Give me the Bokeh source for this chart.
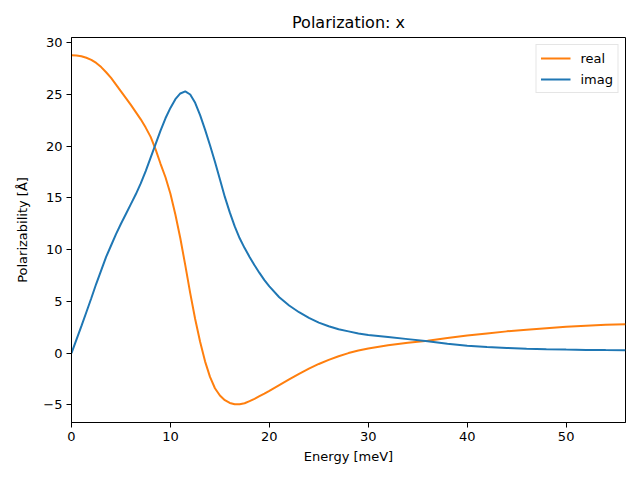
from bokeh.plotting import figure
from bokeh.models import FixedTicker, Range1d, Legend, LegendItem
from bokeh.embed import file_html
from bokeh.resources import INLINE

# Energy grid (meV) and values
energy = [0, 0.5, 1, 1.5, 2, 2.5, 3, 3.5, 4, 4.5, 5, 5.5, 6, 6.5, 7, 7.5, 8,
          8.5, 9, 9.5, 10, 10.5, 11, 11.5, 12, 12.5, 13, 13.5, 14, 14.5, 15,
          15.5, 16, 16.5, 17, 17.5, 18, 18.5, 19, 19.5, 20, 21, 22, 23, 24, 25,
          26, 27, 28, 29, 30, 32, 34, 36, 38, 40, 42, 44, 46, 48, 50, 52, 54, 56]
real = [28.8, 28.78, 28.7, 28.55, 28.35, 28.05, 27.65, 27.15, 26.6, 25.95,
        25.3, 24.65, 24.0, 23.3, 22.6, 21.8, 20.9, 19.7, 18.3, 17.0, 15.4,
        13.4, 11.1, 8.5, 5.8, 3.3, 1.1, -0.8, -2.3, -3.4, -4.1, -4.55, -4.82,
        -4.95, -4.95, -4.85, -4.65, -4.42, -4.17, -3.92, -3.65, -3.1, -2.55,
        -2.0, -1.5, -1.05, -0.65, -0.3, 0.0, 0.25, 0.45, 0.75, 1.0, 1.2, 1.45,
        1.7, 1.9, 2.1, 2.25, 2.4, 2.55, 2.65, 2.73, 2.8]
imag = [0.0, 1.3, 2.6, 3.95, 5.3, 6.7, 8.0, 9.3, 10.4, 11.5, 12.5, 13.45, 14.4,
        15.35, 16.4, 17.6, 18.9, 20.2, 21.5, 22.7, 23.7, 24.55, 25.1, 25.3,
        25.0, 24.2, 23.0, 21.6, 20.1, 18.5, 16.8, 15.1, 13.6, 12.25, 11.1,
        10.15, 9.3, 8.5, 7.75, 7.05, 6.45, 5.4, 4.6, 3.95, 3.4, 2.95, 2.6, 2.3,
        2.1, 1.9, 1.75, 1.55, 1.35, 1.15, 0.9, 0.72, 0.6, 0.5, 0.43, 0.38,
        0.34, 0.31, 0.29, 0.28]
x_ticks = [0, 10, 20, 30, 40, 50]
y_ticks = [-5, 0, 5, 10, 15, 20, 25, 30]

FONT = "DejaVu Sans"

p = figure(width=640, height=480, output_backend="svg", toolbar_location=None,
           x_range=Range1d(0, 56), y_range=Range1d(-6.71, 30.51),
           title="Polarization: x",
           min_border_left=71, min_border_right=15, min_border_top=37,
           min_border_bottom=58)

p.title.align = "center"
p.title.text_font = FONT
p.title.text_font_size = "16px"
p.title.text_font_style = "normal"
p.title.text_color = "black"
p.title.standoff = 11

p.outline_line_color = "black"
p.outline_line_width = 1
p.xgrid.grid_line_color = None
p.ygrid.grid_line_color = None

for ax in (p.xaxis[0], p.yaxis[0]):
    ax.axis_line_color = "black"
    ax.major_tick_line_color = "black"
    ax.major_tick_out = 5
    ax.major_tick_in = 0
    ax.minor_tick_line_color = None
    ax.major_label_text_font = FONT
    ax.major_label_text_font_size = "13px"
    ax.major_label_text_color = "black"
    ax.major_label_standoff = 4
    ax.axis_label_text_font = FONT
    ax.axis_label_text_font_size = "13px"
    ax.axis_label_text_font_style = "normal"
    ax.axis_label_text_color = "black"

p.xaxis.ticker = FixedTicker(ticks=x_ticks)
p.yaxis.ticker = FixedTicker(ticks=y_ticks)
p.yaxis.major_label_overrides = {t: (("\u2212" + str(-t)) if t < 0 else str(t)) for t in y_ticks}
p.xaxis.axis_label = "Energy [meV]"
p.yaxis.axis_label = "Polarizability [\u00c5]"
p.xaxis.axis_label_standoff = 5
p.yaxis.axis_label_standoff = 10

r_real = p.line(energy, real, line_color="#ff7f0e", line_width=2)
r_imag = p.line(energy, imag, line_color="#1f77b4", line_width=2)

legend = Legend(items=[LegendItem(label="real", renderers=[r_real]),
                       LegendItem(label="imag", renderers=[r_imag])],
                location="top_right", margin=7, padding=4, spacing=3,
                glyph_width=30, glyph_height=18, label_height=18,
                label_standoff=10, label_text_font=FONT,
                label_text_font_size="13px", label_text_color="black",
                border_line_color="#cccccc", border_line_width=1,
                background_fill_alpha=0.8)
p.add_layout(legend, "center")

open("out.html", "w").write(file_html(p, INLINE))
